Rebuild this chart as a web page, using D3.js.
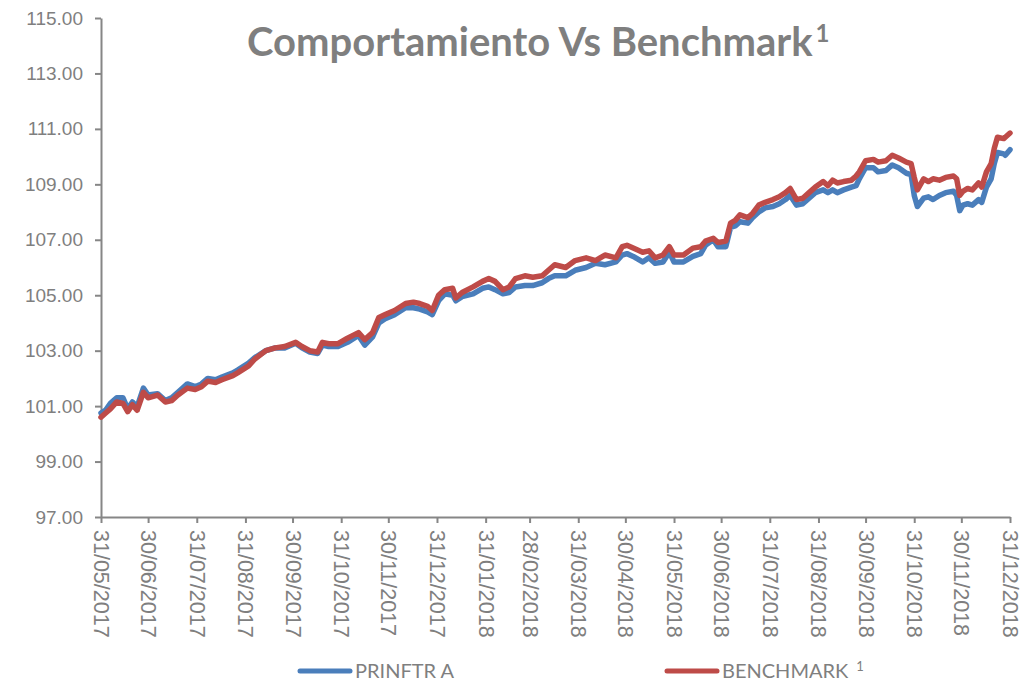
<!DOCTYPE html>
<html>
<head>
<meta charset="utf-8">
<script src="https://cdn.jsdelivr.net/npm/d3@7"></script>
<style>
  body { margin: 0; background: #fff; }
  svg { display: block; font-family: Lato, 'Open Sans', sans-serif; }
  .axis path, .axis line { stroke: #868686; stroke-width: 2; }
  .axis text { fill: #7f7f7f; }
</style>
</head>
<body>
<div id="chart"></div>
<script>
// days since the first date (31/05/2017)
const startDate = '31/05/2017';
const dayOffsets = [
  0, 3, 6, 10, 14, 17, 20, 23, 27, 30, 36, 41, 45, 49, 55, 60, 64, 68, 73, 77,
  84, 87, 94, 98, 105, 111, 117, 124, 128, 133, 138, 141, 145, 151, 157, 164, 168, 173, 177, 181,
  187, 194, 199, 203, 208, 211, 215, 219, 224, 226, 230, 237, 243, 247, 251, 256, 260, 264, 270, 275,
  281, 285, 289, 296, 302, 309, 315, 321, 328, 332, 335, 339, 345, 349, 353, 358, 362, 365, 371, 377,
  382, 385, 390, 393, 398, 401, 404, 407, 412, 415, 419, 423, 428, 432, 436, 439, 443, 447, 451, 455,
  460, 463, 466, 469, 473, 478, 481, 483, 487, 492, 495, 500, 504, 508, 513, 516, 518, 520, 524, 527,
  530, 534, 538, 543, 545, 547, 549, 552, 555, 559, 561, 564, 567, 569, 571, 575, 576, 579
];

const prinftrA = [
  100.75, 100.86, 101.1, 101.3, 101.3, 100.9, 101.15, 100.97, 101.65, 101.4, 101.45, 101.2, 101.3, 101.5, 101.8, 101.7, 101.8, 102.0, 101.95, 102.05,
  102.2, 102.3, 102.55, 102.75, 103.0, 103.1, 103.1, 103.27, 103.1, 102.95, 102.9, 103.2, 103.15, 103.15, 103.3, 103.55, 103.2, 103.5, 104.0, 104.15,
  104.3, 104.55, 104.55, 104.5, 104.4, 104.3, 104.8, 105.05, 105.0, 104.8, 104.95, 105.05, 105.25, 105.3, 105.2, 105.05, 105.1, 105.3, 105.35, 105.35,
  105.45, 105.6, 105.7, 105.7, 105.9, 106.0, 106.15, 106.1, 106.2, 106.45, 106.5, 106.4, 106.2, 106.35, 106.15, 106.2, 106.55, 106.2, 106.2, 106.4,
  106.5, 106.8, 107.0, 106.75, 106.75, 107.45, 107.5, 107.65, 107.6, 107.8, 108.0, 108.15, 108.2, 108.3, 108.45, 108.6, 108.25, 108.3, 108.5, 108.7,
  108.8, 108.7, 108.8, 108.7, 108.8, 108.9, 108.95, 109.2, 109.6, 109.6, 109.45, 109.5, 109.7, 109.6, 109.4, 109.35, 108.6, 108.2, 108.5, 108.55,
  108.45, 108.6, 108.7, 108.75, 108.6, 108.05, 108.25, 108.3, 108.25, 108.45, 108.35, 108.9, 109.2, 109.75, 110.15, 110.1, 110.05, 110.25
];

const benchmark = [
  100.6, 100.75, 100.9, 101.15, 101.1, 100.8, 101.05, 100.85, 101.5, 101.3, 101.4, 101.15, 101.2, 101.4, 101.65, 101.6, 101.7, 101.9, 101.85, 101.95,
  102.1, 102.2, 102.45, 102.7, 103.0, 103.1, 103.15, 103.3, 103.15, 103.0, 102.95, 103.3, 103.25, 103.25, 103.45, 103.65, 103.4, 103.65, 104.2, 104.3,
  104.45, 104.7, 104.75, 104.7, 104.6, 104.45, 105.0, 105.2, 105.25, 104.9, 105.1, 105.3, 105.5, 105.6, 105.5, 105.2, 105.3, 105.6, 105.7, 105.65,
  105.7, 105.9, 106.1, 106.0, 106.25, 106.35, 106.25, 106.45, 106.35, 106.75, 106.8, 106.7, 106.55, 106.6, 106.35, 106.45, 106.75, 106.45, 106.45, 106.7,
  106.75, 106.95, 107.05, 106.9, 106.95, 107.6, 107.7, 107.9, 107.8, 107.95, 108.25, 108.35, 108.45, 108.55, 108.7, 108.85, 108.45, 108.5, 108.7, 108.9,
  109.1, 108.95, 109.15, 109.05, 109.1, 109.15, 109.3, 109.45, 109.85, 109.9, 109.8, 109.85, 110.05, 109.95, 109.8, 109.75, 109.25, 108.8, 109.2, 109.1,
  109.2, 109.15, 109.25, 109.3, 109.2, 108.6, 108.75, 108.85, 108.8, 109.05, 108.9, 109.45, 109.75, 110.3, 110.7, 110.65, 110.7, 110.85
];

const xTickLabels = [
  '31/05/2017', '30/06/2017', '31/07/2017', '31/08/2017', '30/09/2017', '31/10/2017', '30/11/2017',
  '31/12/2017', '31/01/2018', '28/02/2018', '31/03/2018', '30/04/2018', '31/05/2018', '30/06/2018',
  '31/07/2018', '31/08/2018', '30/09/2018', '31/10/2018', '30/11/2018', '31/12/2018'
];
const yTicks = [97, 99, 101, 103, 105, 107, 109, 111, 113, 115];

const seriesNames = ['PRINFTR A', 'BENCHMARK'];
const seriesColors = ['#4a7ebb', '#be4b48'];

const width = 1028;
const height = 684;
const margin = { top: 18, right: 18, bottom: 167, left: 101 };

const parseDate = d3.timeParse('%d/%m/%Y');
const start = parseDate(startDate);
const dates = dayOffsets.map(d => d3.timeDay.offset(start, d));
const tickDates = xTickLabels.map(parseDate);

const svg = d3.select('#chart')
  .append('svg')
  .attr('width', width)
  .attr('height', height);

svg.append('rect')
  .attr('width', width)
  .attr('height', height)
  .attr('fill', '#fff');

const x = d3.scaleTime()
  .domain([tickDates[0], tickDates[tickDates.length - 1]])
  .range([margin.left, width - margin.right]);

const y = d3.scaleLinear()
  .domain([97, 115])
  .range([height - margin.bottom, margin.top]);

// y axis
svg.append('g')
  .attr('class', 'axis')
  .attr('transform', `translate(${margin.left},0)`)
  .call(d3.axisLeft(y)
    .tickValues(yTicks)
    .tickFormat(d3.format('.2f'))
    .tickSize(6)
    .tickSizeOuter(0)
    .tickPadding(12))
  .selectAll('text')
  .style('font-size', '19px');

// x axis, labels turned to read top to bottom
const xAxis = svg.append('g')
  .attr('class', 'axis')
  .attr('transform', `translate(0,${height - margin.bottom})`)
  .call(d3.axisBottom(x)
    .tickValues(tickDates)
    .tickFormat(d3.timeFormat('%d/%m/%Y'))
    .tickSize(6)
    .tickSizeOuter(0));

xAxis.selectAll('text')
  .style('font-size', '21.5px')
  .attr('text-anchor', 'start')
  .attr('transform', 'rotate(90)')
  .attr('x', 13)
  .attr('y', 0)
  .attr('dy', '0.35em');

// lines
const line = values => d3.line()
  .x((d, i) => x(dates[i]))
  .y(d => y(d))
  .curve(d3.curveLinear)(values);

[prinftrA, benchmark].forEach((values, i) => {
  svg.append('path')
    .attr('d', line(values))
    .attr('fill', 'none')
    .attr('stroke', seriesColors[i])
    .attr('stroke-width', 5.5)
    .attr('stroke-linejoin', 'round')
    .attr('stroke-linecap', 'round');
});

// title
const title = svg.append('text')
  .attr('x', 247)
  .attr('y', 56)
  .attr('fill', '#7f7f7f')
  .style('font-size', '40px')
  .style('font-weight', 'bold');
title.append('tspan').text('Comportamiento Vs Benchmark');
title.append('tspan')
  .attr('dy', -14)
  .attr('dx', 3)
  .style('font-size', '24px')
  .text('1');

// legend
const legendX = [300, 667];
seriesNames.forEach((name, i) => {
  const g = svg.append('g')
    .attr('transform', `translate(${legendX[i]},671)`);
  g.append('line')
    .attr('x1', 0)
    .attr('x2', 50)
    .attr('stroke', seriesColors[i])
    .attr('stroke-width', 5)
    .attr('stroke-linecap', 'round');
  const t = g.append('text')
    .attr('x', 55)
    .attr('y', 0)
    .attr('dy', '0.35em')
    .attr('fill', '#7f7f7f')
    .style('font-size', '20px')
    .text(name);
  if (i === 1) {
    t.append('tspan')
      .attr('dx', 8)
      .attr('dy', -7)
      .style('font-size', '13px')
      .text('1');
  }
});
</script>
</body>
</html>
